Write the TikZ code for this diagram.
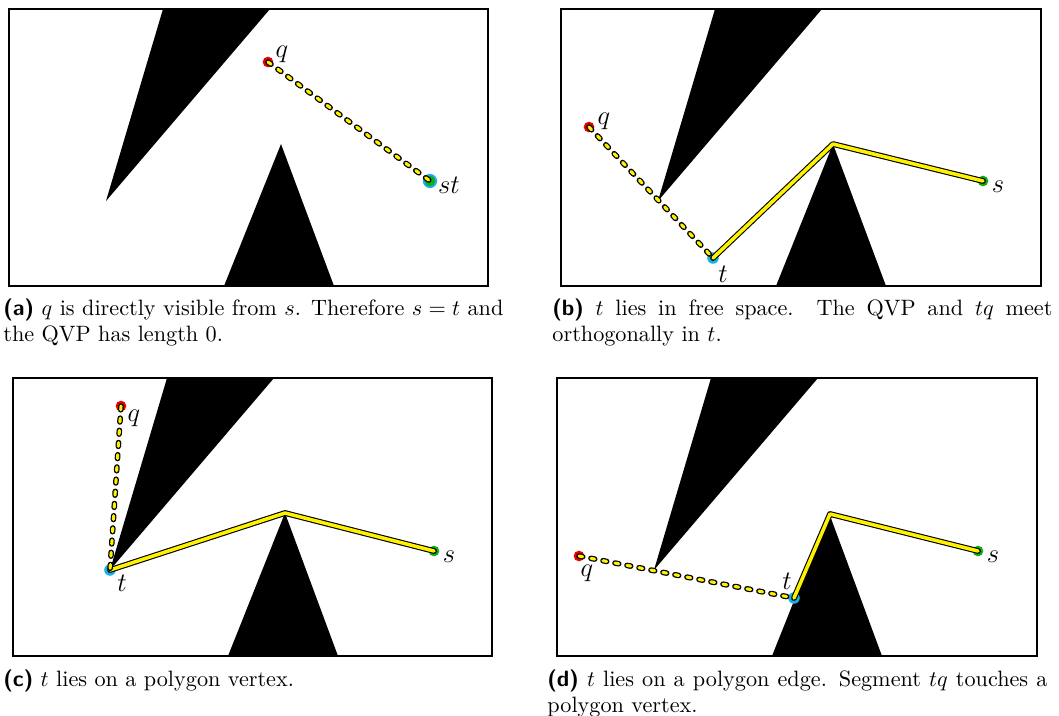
\documentclass[tikz,border=0pt]{standalone}
\usepackage{amsmath, amssymb}
\usepackage{tikz}
\usetikzlibrary{calc}

\definecolor{qvpyellow}{RGB}{255,242,0}
\definecolor{qred}{RGB}{235,0,0}
\definecolor{sgreen}{RGB}{20,170,20}
\definecolor{tcyan}{RGB}{25,175,235}

\begin{document}
\begin{tikzpicture}[x=0.45pt, y=-0.45pt,
    panelframe/.style={draw=black, line width=0.7pt},
    pathout/.style={draw=black, line width=2.6pt, line join=round, line cap=round},
    pathin/.style={draw=qvpyellow, line width=1.6pt, line join=round, line cap=round},
    dashout/.style={pathout, line width=2.5pt, dash pattern=on 1.7pt off 3.8pt},
    dashin/.style={pathin, line width=1.4pt, dash pattern=on 1.7pt off 3.8pt},
    lbl/.style={inner sep=0pt, font=\large},
    capt/.style={anchor=north west, inner sep=0pt, text width=225pt, align=justify,
        execute at begin node={\hyphenpenalty=10000\exhyphenpenalty=10000}}]
    \useasboundingbox (0,0) rectangle (1059,715);

    % Frames and the two obstacles, same in every panel
    \foreach \ox/\oy/\w/\h in {9/9/479/277, 561/9/480/277, 13/378/479/278, 557/378/480/278} {
        \begin{scope}[shift={(\ox,\oy)}]
            \fill[black] (154,0) -- (261,0) -- (97,192) -- cycle;
            \fill[black] (272,135) -- (325,\h) -- (215,\h) -- cycle;
            \draw[panelframe] (0,0) rectangle (\w,\h);
        \end{scope}
    }

    % (a) q visible from s
    \begin{scope}[shift={(9,9)}]
        \coordinate (aq) at (259,53);
        \coordinate (ast) at (421,172);
        \fill[tcyan] (ast) circle (3.2pt);
        \fill[sgreen] (ast) circle (2.4pt);
        \fill[qred] (aq) circle (2.4pt);
        \draw[dashout] (aq) -- (ast);
        \draw[dashin] (aq) -- (ast);
        \node[lbl] (aql) at ($(aq)+(14,-8)$) {$q$};
        \node[lbl] (astl) at ($(ast)+(19,4)$) {$st$};
    \end{scope}

    % (b) t in free space
    \begin{scope}[shift={(561,9)}]
        \coordinate (bq) at (28,118);
        \coordinate (bt) at (152,249);
        \coordinate (bv) at (272,135);
        \coordinate (bs) at (422,172);
        \fill[tcyan] (bt) circle (2.6pt);
        \fill[sgreen] (bs) circle (2.4pt);
        \fill[qred] (bq) circle (2.4pt);
        \draw[pathout] (bt) -- (bv) -- (bs);
        \draw[pathin] (bt) -- (bv) -- (bs);
        \draw[dashout] (bq) -- (bt);
        \draw[dashin] (bq) -- (bt);
        \node[lbl] (bql) at ($(bq)+(15,-6)$) {$q$};
        \node[lbl] (btl) at ($(bt)+(10,16)$) {$t$};
        \node[lbl] (bsl) at ($(bs)+(15,6)$) {$s$};
    \end{scope}

    % (c) t on a vertex
    \begin{scope}[shift={(13,378)}]
        \coordinate (cq) at (108,28);
        \coordinate (ct) at (97,192);
        \coordinate (cv) at (272,135);
        \coordinate (cs) at (421,173);
        \fill[tcyan] (ct) circle (2.6pt);
        \fill[sgreen] (cs) circle (2.4pt);
        \fill[qred] (cq) circle (2.4pt);
        \draw[pathout] (ct) -- (cv) -- (cs);
        \draw[pathin] (ct) -- (cv) -- (cs);
        \draw[dashout] (cq) -- (ct);
        \draw[dashin] (cq) -- (ct);
        \node[lbl] (cql) at ($(cq)+(13,12)$) {$q$};
        \node[lbl] (ctl) at ($(ct)+(12,13)$) {$t$};
        \node[lbl] (csl) at ($(cs)+(15,6)$) {$s$};
    \end{scope}

    % (d) t on an edge, tq touches the vertex
    \begin{scope}[shift={(557,378)}]
        \coordinate (dq) at (22,178);
        \coordinate (dt) at (237,220);
        \coordinate (dv) at (273,136);
        \coordinate (ds) at (421,173);
        \fill[tcyan] (dt) circle (2.6pt);
        \fill[sgreen] (ds) circle (2.4pt);
        \fill[qred] (dq) circle (2.4pt);
        \draw[pathout] (dt) -- (dv) -- (ds);
        \draw[pathin] (dt) -- (dv) -- (ds);
        \draw[dashout] (dq) -- (dt);
        \draw[dashin] (dq) -- (dt);
        \node[lbl] (dql) at ($(dq)+(8,17)$) {$q$};
        \node[lbl] (dtl) at ($(dt)+(-7,-17)$) {$t$};
        \node[lbl] (dsl) at ($(ds)+(15,6)$) {$s$};
    \end{scope}

    % Captions
    \node[capt] (capa) at (3,298) {\textsf{\textbf{(a)}} $q$ is directly visible from $s$. Therefore $s = t$ and the QVP has length 0.};
    \node[capt] (capb) at (552,298) {\textsf{\textbf{(b)}} $t$ lies in free space. The QVP and $tq$ meet orthogonally in $t$.};
    \node[capt] (capc) at (3,669) {\textsf{\textbf{(c)}} $t$ lies on a polygon vertex.};
    \node[capt] (capd) at (547,669) {\textsf{\textbf{(d)}} $t$ lies on a polygon edge. Segment $tq$ touches a polygon vertex.};
\end{tikzpicture}
\end{document}
